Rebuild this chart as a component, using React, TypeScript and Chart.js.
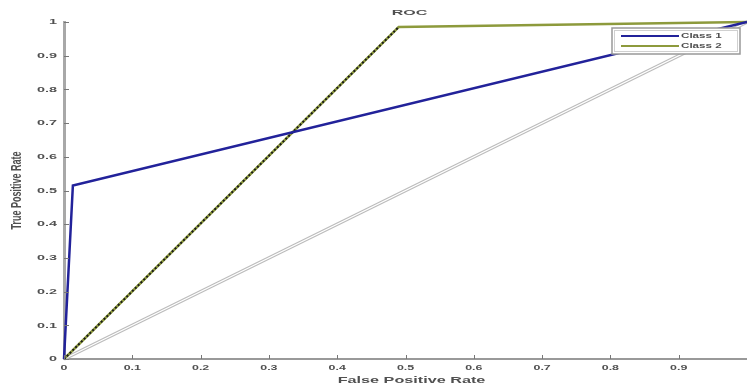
import React, { useEffect, useRef } from "react";
import { Chart, registerables } from "chart.js";

Chart.register(...registerables);

const class1Fpr = [0, 0.013, 1];
const class1Tpr = [0, 0.515, 1];
const class2Fpr = [0, 0.49, 1];
const class2Tpr = [0, 0.985, 1];
const chanceFpr = [0, 1];
const chanceTpr = [0, 1];
const xTickValues = [0, 0.1, 0.2, 0.3, 0.4, 0.5, 0.6, 0.7, 0.8, 0.9];
const xTickLabels = ["0", "0.1", "0.2", "0.3", "0.4", "0.5", "0.6", "0.7", "0.8", "0.9"];
const yTickValues = [0, 0.1, 0.2, 0.3, 0.4, 0.5, 0.6, 0.7, 0.8, 0.9, 1];
const yTickLabels = ["0", "0.1", "0.2", "0.3", "0.4", "0.5", "0.6", "0.7", "0.8", "0.9", "1"];
const seriesNames = ["Class 1", "Class 2"];
const chartTitle = "ROC";
const xTitle = "False Positive Rate";
const yTitle = "True Positive Rate";

const BLUE = "#22229a";
const OLIVE = "#8d9a3c";
const GRAY = "#bcbcbc";
const TEXT = "#505050";
const FONT = "'Liberation Sans', Arial, sans-serif";

function pts(xs: number[], ys: number[]) {
  return xs.map((x, i) => ({ x, y: ys[i] }));
}

function stretchedText(
  ctx: CanvasRenderingContext2D,
  text: string,
  x: number,
  y: number,
  opts: { font: string; sx: number; align: CanvasTextAlign; rotate?: number }
) {
  ctx.save();
  ctx.translate(x, y);
  ctx.scale(opts.sx, 1);
  if (opts.rotate) ctx.rotate(opts.rotate);
  ctx.font = opts.font;
  ctx.fillStyle = TEXT;
  ctx.textAlign = opts.align;
  ctx.textBaseline = "middle";
  ctx.fillText(text, 0, 0);
  ctx.restore();
}

const textPlugin = {
  id: "matText",
  afterDraw(chart: any) {
    const { ctx, chartArea } = chart;
    const xs = chart.scales.x;
    const ys = chart.scales.y;
    const cx = (chartArea.left + chartArea.right) / 2;
    stretchedText(ctx, chartTitle, cx + 4, 13, { font: `bold 8px ${FONT}`, sx: 2, align: "center" });
    xTickValues.forEach((v, i) => {
      stretchedText(ctx, xTickLabels[i], xs.getPixelForValue(v), chartArea.bottom + 9, {
        font: `bold 8px ${FONT}`, sx: 1.55, align: "center",
      });
    });
    yTickValues.forEach((v, i) => {
      stretchedText(ctx, yTickLabels[i], chartArea.left - 7, ys.getPixelForValue(v), {
        font: `bold 8px ${FONT}`, sx: 1.8, align: "right",
      });
    });
    stretchedText(ctx, xTitle, cx + 6, chartArea.bottom + 22, { font: `bold 9px ${FONT}`, sx: 1.8, align: "center" });
    stretchedText(ctx, yTitle, 17, (chartArea.top + chartArea.bottom) / 2, {
      font: `bold 9px ${FONT}`, sx: 1.7, align: "center", rotate: -Math.PI / 2,
    });
  },
};

const tickPlugin = {
  id: "innerTicks",
  afterDatasetsDraw(chart: any) {
    const { ctx, chartArea } = chart;
    const xs = chart.scales.x;
    const ys = chart.scales.y;
    ctx.save();
    ctx.strokeStyle = "#777";
    ctx.lineWidth = 1;
    ctx.beginPath();
    xTickValues.forEach((v) => {
      const px = Math.round(xs.getPixelForValue(v)) + 0.5;
      ctx.moveTo(px, chartArea.bottom);
      ctx.lineTo(px, chartArea.bottom - 4);
    });
    yTickValues.forEach((v) => {
      const py = Math.round(ys.getPixelForValue(v)) + 0.5;
      ctx.moveTo(chartArea.left, py);
      ctx.lineTo(chartArea.left + 5, py);
    });
    ctx.stroke();
    ctx.restore();
  },
};

const legendPlugin = {
  id: "insideLegend",
  afterDraw(chart: any) {
    const { ctx } = chart;
    const x0 = 612, y0 = 28, w = 128, h = 26;
    ctx.save();
    ctx.fillStyle = "#fff";
    ctx.fillRect(x0, y0, w, h);
    ctx.strokeStyle = "#999";
    ctx.lineWidth = 1.5;
    ctx.strokeRect(x0, y0, w, h);
    ctx.strokeStyle = "#d0d0d0";
    ctx.lineWidth = 1;
    ctx.strokeRect(x0 + 2.5, y0 + 2.5, w - 5, h - 5);
    const colors = [BLUE, OLIVE];
    seriesNames.forEach((name, i) => {
      const y = y0 + 8 + i * 10;
      ctx.strokeStyle = colors[i];
      ctx.lineWidth = 2;
      ctx.beginPath();
      ctx.moveTo(x0 + 9, y);
      ctx.lineTo(x0 + 67, y);
      ctx.stroke();
      stretchedText(ctx, name, x0 + 69, y, { font: `bold 8px ${FONT}`, sx: 1.45, align: "left" });
    });
    ctx.restore();
  },
};

export default function App() {
  const ref = useRef<HTMLCanvasElement | null>(null);

  useEffect(() => {
    document.body.style.margin = "0";
    if (!ref.current) return;
    const chart = new Chart(ref.current, {
      type: "scatter",
      data: {
        datasets: [
          {
            label: seriesNames[0],
            data: pts(class1Fpr, class1Tpr),
            showLine: true,
            borderColor: BLUE,
            borderWidth: 2.5,
            pointRadius: 0,
            order: 1,
            clip: false as any,
          },
          {
            label: seriesNames[1] + " overlay",
            data: pts(class2Fpr.slice(0, 2), class2Tpr.slice(0, 2)),
            showLine: true,
            borderColor: "#1a1a1a",
            borderWidth: 2,
            borderDash: [2, 2],
            pointRadius: 0,
            order: 2,
            clip: false as any,
          },
          {
            label: seriesNames[1],
            data: pts(class2Fpr, class2Tpr),
            showLine: true,
            borderColor: OLIVE,
            borderWidth: 2.5,
            pointRadius: 0,
            order: 3,
            clip: false as any,
          },
          {
            label: "chance inner",
            data: pts(chanceFpr, chanceTpr),
            showLine: true,
            borderColor: "#ffffff",
            borderWidth: 1.2,
            pointRadius: 0,
            order: 4,
            clip: false as any,
          },
          {
            label: "chance",
            data: pts(chanceFpr, chanceTpr),
            showLine: true,
            borderColor: GRAY,
            borderWidth: 3.5,
            pointRadius: 0,
            order: 5,
            clip: false as any,
          },
        ],
      },
      options: {
        animation: false,
        responsive: false,
        maintainAspectRatio: false,
        layout: { padding: { top: 22, left: 0, right: 0, bottom: 0 } },
        plugins: {
          legend: { display: false },
          tooltip: { enabled: false },
          title: { display: false },
        },
        scales: {
          x: {
            type: "linear",
            min: 0,
            max: 1,
            grid: { display: false, drawTicks: false },
            border: { display: true, color: "#999", width: 2 },
            afterFit: (scale: any) => {
              scale.height = 31;
            },
            ticks: { display: false },
            title: { display: false },
          },
          y: {
            type: "linear",
            min: 0,
            max: 1,
            grid: { display: false, drawTicks: false },
            border: { display: true, color: "#a8a8a8", width: 3 },
            afterFit: (scale: any) => {
              scale.width = 64;
            },
            ticks: { display: false, stepSize: 0.1 },
            title: { display: false },
          },
        },
      },
      plugins: [tickPlugin, legendPlugin, textPlugin],
    });
    return () => chart.destroy();
  }, []);

  return <canvas ref={ref} width={747} height={390} style={{ display: "block" }} />;
}
